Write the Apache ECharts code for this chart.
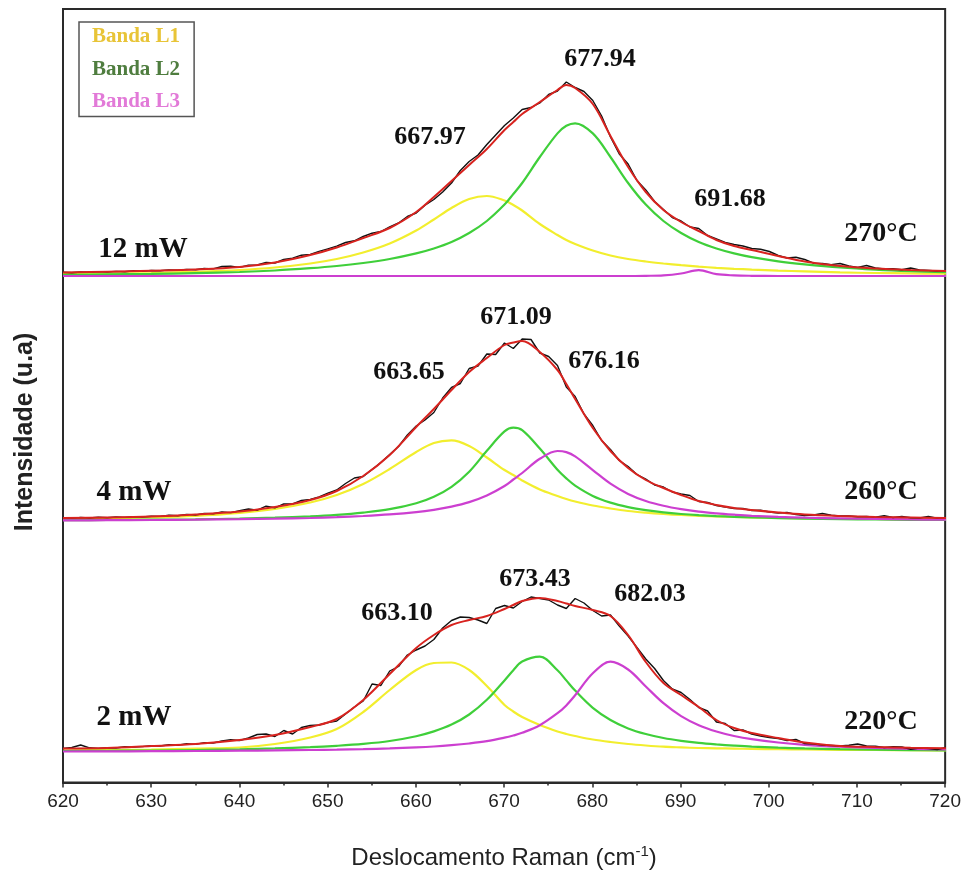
<!DOCTYPE html>
<html>
<head>
<meta charset="utf-8">
<title>Deslocamento Raman</title>
<script src="https://cdn.jsdelivr.net/npm/echarts@6/dist/echarts.min.js"></script>
<style>
  html, body { margin: 0; padding: 0; background: #fff; }
  #chart { width: 964px; height: 875px; }
</style>
</head>
<body>
<div id="chart"></div>
<script>
// wavenumbers (cm-1) where the fitted curves were read
const fitShift = [620, 625, 630, 635, 640, 644, 648, 651, 654, 657, 660, 662, 664, 666, 668, 670, 671, 672, 674,
  676, 677, 678, 680, 682, 684, 686, 688, 690, 692, 694, 696, 698, 701, 704, 708, 712, 716, 720];
// measured spectra are read every 1 cm-1
const rawShift = Array.from({ length: 101 }, (_, i) => 620 + i);

// 12 mW / 270°C
const raw12 = [3.8, 3.2, 4.0, 3.6, 4.4, 4.0, 4.6, 4.3, 5.2, 4.7,
  5.5, 5.2, 6.1, 5.7, 6.6, 6.2, 7.5, 7.1, 9.5, 9.8,
  8.6, 10.8, 11.0, 13.5, 13.0, 16.5, 17.8, 20.8, 21.5, 24.6,
  27.2, 29.8, 33.5, 35.2, 39.5, 42.8, 44.5, 49.2, 53.0, 59.5,
  63.0, 70.8, 76.5, 84.0, 93.0, 105.5, 114.5, 121.0, 131.5, 141.0,
  150.5, 158.0, 166.5, 168.5, 173.0, 181.5, 185.0, 194.0, 188.5, 184.5,
  175.5, 160.0, 139.0, 122.0, 112.0, 95.5, 86.0, 74.5, 66.5, 58.5,
  55.0, 49.0, 47.5, 40.5, 37.0, 33.5, 31.5, 30.0, 27.5, 26.8,
  24.5, 20.5, 18.0, 18.8, 16.5, 12.8, 12.5, 11.4, 12.5, 10.0,
  8.6, 10.5, 8.0, 7.0, 7.2, 6.2, 8.0, 6.0, 5.6, 5.0, 5.4];
const fit12 = [3.5, 4.2, 5.2, 6.5, 9, 13.5, 21, 28.5, 38, 48, 64, 79, 95, 111, 127, 146, 154, 162, 174,
  186, 191, 188, 172, 140, 109, 84, 66, 54, 45, 36, 30, 26, 20, 14.5, 10, 7.5, 6, 5];
const bandL1_12 = [1.8, 2.3, 3, 4.2, 6, 8.5, 12.5, 17, 23.5, 32.5, 45.5, 56.5, 68, 77, 80, 75.5, 71, 65.5, 52,
  41, 36, 32, 25.5, 20.5, 17, 14.5, 12.5, 10.8, 9.4, 8.2, 7.2, 6.4, 5.4, 4.6, 3.6, 3.0, 2.6, 2.3];
const bandL2_12 = [1.2, 1.6, 2.1, 2.9, 4, 5.5, 7.8, 10, 13, 17, 22.6, 27.5, 34, 43, 55, 71.4, 82, 93, 119,
  142.6, 150.2, 152.7, 142.6, 119, 93, 71.4, 55, 43, 34, 27.5, 22.6, 18.8, 14.7, 11.7, 8.5, 6.3, 4.8, 3.8];
const bandL3_12 = [0, 0, 0, 0, 0, 0, 0, 0, 0, 0, 0, 0, 0, 0, 0, 0, 0, 0, 0,
  0, 0, 0, 0, 0, 0, 0.2, 0.6, 2.5, 5.8, 1.8, 0.6, 0.2, 0, 0, 0, 0, 0, 0];

// 4 mW / 260°C
const raw4 = [3.4, 2.6, 3.5, 3.0, 3.8, 3.2, 4.0, 3.6, 4.4, 4.0,
  4.8, 4.6, 5.8, 5.2, 6.6, 6.0, 7.6, 7.3, 9.0, 8.4,
  10.2, 12.0, 10.8, 14.8, 13.2, 17.0, 17.0, 20.5, 21.5, 24.2,
  27.8, 31.0, 37.5, 43.0, 44.5, 51.5, 58.5, 66.5, 74.5, 86.0,
  95.0, 101.0, 108.5, 123.0, 133.5, 137.5, 152.5, 155.0, 167.0, 166.5,
  178.0, 172.5, 182.0, 181.5, 168.0, 164.5, 155.5, 134.0, 124.5, 107.0,
  95.5, 80.5, 71.5, 60.5, 54.5, 46.5, 42.0, 36.0, 34.0, 29.0,
  27.0, 25.5, 19.5, 18.5, 15.5, 14.0, 12.5, 12.5, 10.5, 10.8,
  9.0, 8.0, 8.5, 6.5, 5.5, 6.0, 7.5, 5.8, 5.0, 5.0,
  4.2, 4.5, 3.8, 5.2, 3.5, 4.6, 3.2, 3.0, 4.5, 2.8, 3.2];
const fit4 = [3, 3.5, 4.5, 6.5, 9.5, 14, 21, 30, 45, 66, 94, 112, 131, 149, 163, 176, 178.5, 180, 169,
  151, 137, 122, 93, 70, 53, 41, 33, 26, 20, 16, 13, 11, 8.5, 6.5, 5, 4, 3.5, 3];
const bandL1_4 = [2, 2.6, 3.5, 5, 8, 12, 18.5, 26, 37, 52, 69, 78, 80.6, 75, 63.5, 51, 46, 40.5, 31.5,
  25, 22, 19.5, 15.5, 12.5, 10, 8.3, 7, 6, 5.2, 4.6, 4, 3.6, 3.1, 2.7, 2.3, 2, 1.8, 1.6];
const bandL2_4 = [0.8, 1, 1.3, 1.7, 2.4, 3.3, 4.6, 6.1, 8.4, 11.8, 17.8, 24.3, 34.2, 49.3, 70.2, 89.6, 93.3, 90.8, 72.4,
  51.2, 42.6, 35.4, 25.1, 18.4, 13.9, 10.8, 8.6, 7, 5.8, 4.9, 4.2, 3.6, 2.9, 2.4, 1.9, 1.5, 1.2, 1];
const bandL3_4 = [0.6, 0.8, 1, 1.3, 1.8, 2.3, 3, 3.8, 5, 6.6, 8.9, 11.2, 14.4, 18.9, 25.5, 35, 41.5, 48, 62.2,
  70, 68.9, 64.6, 50.9, 37.3, 27.1, 20, 15.2, 11.8, 9.3, 7.6, 6.3, 5.2, 4.1, 3.3, 2.6, 2, 1.6, 1.3];

// 2 mW / 220°C
const raw2 = [3.5, 4.5, 7.0, 4.2, 3.6, 4.3, 4.0, 5.2, 4.9, 5.4,
  6.4, 6.0, 7.3, 6.8, 8.2, 7.6, 9.4, 9.0, 11.0, 12.2,
  11.5, 14.0, 17.5, 18.0, 15.5, 21.5, 18.0, 24.5, 26.5, 27.0,
  29.5, 31.0, 38.0, 45.0, 51.0, 68.0, 66.5, 81.0, 85.5, 97.0,
  102.0, 106.0, 112.5, 124.0, 131.5, 135.0, 134.5, 132.0, 128.5, 143.5,
  146.5, 144.0, 150.5, 155.0, 153.5, 152.0, 147.0, 143.5, 153.5, 149.0,
  141.5, 136.0, 137.0, 126.0, 116.0, 104.5, 93.0, 83.5, 71.5, 63.0,
  59.5, 52.5, 44.5, 41.0, 30.0, 28.5, 21.5, 22.0, 18.0, 16.0,
  14.5, 13.5, 11.5, 12.5, 8.5, 8.0, 7.0, 6.5, 6.0, 6.8,
  8.0, 6.0, 5.8, 4.5, 5.2, 5.0, 2.8, 4.0, 3.5, 2.5, 4.5];
const fit2 = [3.5, 4, 6, 8, 12, 17, 25, 33, 52, 78, 104, 117, 127, 132, 136, 143, 147, 151, 154,
  151, 148.5, 146, 142, 136, 117, 90, 69, 57, 45, 32, 24, 19, 14, 9.5, 6, 5, 4.3, 3.8];
const bandL1_2 = [1.5, 2, 2.5, 3.5, 4.5, 8, 14.5, 23, 40, 62, 82, 89, 89.5, 82, 66, 47, 40.5, 35, 27,
  20.5, 18, 16, 12.5, 10, 8, 6.5, 5.3, 4.6, 4, 3.7, 3.4, 3.1, 2.8, 2.5, 2.2, 2, 1.8, 1.6];
const bandL2_2 = [1, 1.2, 1.5, 2, 2.7, 3.6, 4.8, 6.2, 8.1, 11, 15.8, 20.6, 27.4, 37.5, 52.2, 71.6, 81.8, 90.4, 95.3,
  81.8, 71.6, 61.4, 44.2, 32, 23.6, 18, 14, 11.2, 9.1, 7.6, 6.4, 5.4, 4.4, 3.6, 2.8, 2.3, 1.9, 1.6];
const bandL3_2 = [0.5, 0.6, 0.8, 1, 1.3, 1.6, 2, 2.4, 2.9, 3.6, 4.6, 5.5, 6.8, 8.5, 10.8, 14.3, 16.5, 19.2, 26.8,
  38.8, 46.6, 56.7, 78.7, 90.3, 82.5, 65.5, 48.8, 35.9, 26.8, 20.5, 16, 12.8, 9.5, 7.2, 5.3, 4, 3.2, 2.6];

const xTicks = [620, 630, 640, 650, 660, 670, 680, 690, 700, 710, 720];
const bandNames = ['Banda L1', 'Banda L2', 'Banda L3'];

//cores
const bandColors = ['#f2ee2e', '#3fcf3a', '#cc3fd0'];
const legendColors = ['#e8c437', '#4f7d3f', '#e27ad8'];
const fitColor = '#d8231f';
const rawColor = '#111';

const chart = echarts.init(document.getElementById('chart'));

//painéis empilhados (px do topo)
const panels = [
  { top: 9, height: 267, raw: raw12, fit: fit12, bands: [bandL1_12, bandL2_12, bandL3_12] },
  { top: 276, height: 245, raw: raw4, fit: fit4, bands: [bandL1_4, bandL2_4, bandL3_4] },
  { top: 521, height: 231, raw: raw2, fit: fit2, bands: [bandL1_2, bandL2_2, bandL3_2] }
];

const pairs = (xs, ys) => xs.map((x, i) => [x, ys[i]]);

const grids = [];
const xAxes = [];
const yAxes = [];
const series = [];

panels.forEach((p, i) => {
  grids.push({ left: 63, right: 18, top: p.top, height: p.height, show: false });
  xAxes.push({ gridIndex: i, type: 'value', min: 620, max: 720, show: false });
  yAxes.push({ gridIndex: i, type: 'value', min: 0, max: p.height, show: false });
  p.bands.forEach((b, k) => {
    series.push({
      name: bandNames[k], type: 'line', xAxisIndex: i, yAxisIndex: i,
      data: pairs(fitShift, b), showSymbol: false, smooth: 0.35,
      lineStyle: { color: bandColors[k], width: 2.2 }, itemStyle: { color: bandColors[k] },
      silent: true, z: 2
    });
  });
  series.push({
    name: 'Experimental', type: 'line', xAxisIndex: i, yAxisIndex: i,
    data: pairs(rawShift, p.raw), showSymbol: false,
    lineStyle: { color: rawColor, width: 1.4 }, silent: true, z: 3
  });
  series.push({
    name: 'Ajuste', type: 'line', xAxisIndex: i, yAxisIndex: i,
    data: pairs(fitShift, p.fit), showSymbol: false, smooth: 0.35,
    lineStyle: { color: fitColor, width: 2 }, silent: true, z: 4
  });
});

//moldura + eixo x
grids.push({ left: 63, right: 18, top: 9, bottom: 90, show: true, borderColor: '#2a2a2a', borderWidth: 2, backgroundColor: 'transparent' });
xAxes.push({
  gridIndex: 3, type: 'value', min: xTicks[0], max: xTicks[xTicks.length - 1], interval: 10,
  axisLine: { show: true, lineStyle: { color: '#2a2a2a', width: 2 } },
  axisTick: { show: true, length: 5, lineStyle: { color: '#2a2a2a', width: 1.5 } },
  minorTick: { show: true, splitNumber: 2, length: 3, lineStyle: { color: '#2a2a2a', width: 1.5 } },
  splitLine: { show: false },
  axisLabel: { fontSize: 19, color: '#222', margin: 10, fontFamily: 'Liberation Sans' },
  name: 'Deslocamento Raman (cm{sup|-1})',
  nameLocation: 'middle', nameGap: 62,
  nameTextStyle: {
    fontSize: 24, color: '#222', fontFamily: 'Liberation Sans',
    rich: { sup: { fontSize: 15, verticalAlign: 'top', padding: [0, 0, 12, 0], fontFamily: 'Liberation Sans', color: '#222' } }
  }
});
yAxes.push({ gridIndex: 3, type: 'value', min: 0, max: 1, show: false });

//rótulos
const serifBold = (text, x, y, size) => ({
  type: 'text', x: x, y: y,
  style: { text: text, font: 'bold ' + size + 'px "Liberation Serif"', fill: '#111', textAlign: 'center', textVerticalAlign: 'middle' },
  z: 10
});

const labels = [
  ['677.94', 600, 59, 26], ['667.97', 430, 137, 26], ['691.68', 730, 199, 26],
  ['12 mW', 143, 250, 29], ['270°C', 881, 234, 28],
  ['671.09', 516, 317, 26], ['663.65', 409, 372, 26], ['676.16', 604, 361, 26],
  ['4 mW', 134, 493, 29], ['260°C', 881, 492, 28],
  ['673.43', 535, 579, 26], ['663.10', 397, 613, 26], ['682.03', 650, 594, 26],
  ['2 mW', 134, 718, 29], ['220°C', 881, 722, 28]
];

const graphic = labels.map((l) => serifBold(l[0], l[1], l[2], l[3]));
graphic.push({
  type: 'text', x: 25, y: 432, rotation: Math.PI / 2,
  style: { text: 'Intensidade (u.a)', font: 'bold 25px "Liberation Sans"', fill: '#222', textAlign: 'center', textVerticalAlign: 'middle' }
});

chart.setOption({
  backgroundColor: '#fff',
  animation: false,
  grid: grids,
  xAxis: xAxes,
  yAxis: yAxes,
  legend: {
    orient: 'vertical', left: 79, top: 22,
    data: bandNames.map((n, k) => ({ name: n, icon: 'none', textStyle: { color: legendColors[k] } })),
    itemWidth: 0, itemHeight: 22, itemGap: 11,
    padding: [4, 14, 4, 8],
    borderColor: '#555', borderWidth: 1.5,
    textStyle: { fontSize: 21, fontWeight: 'bold', fontFamily: 'Liberation Serif' },
    selectedMode: false
  },
  series: series,
  graphic: graphic
});
</script>
</body>
</html>
